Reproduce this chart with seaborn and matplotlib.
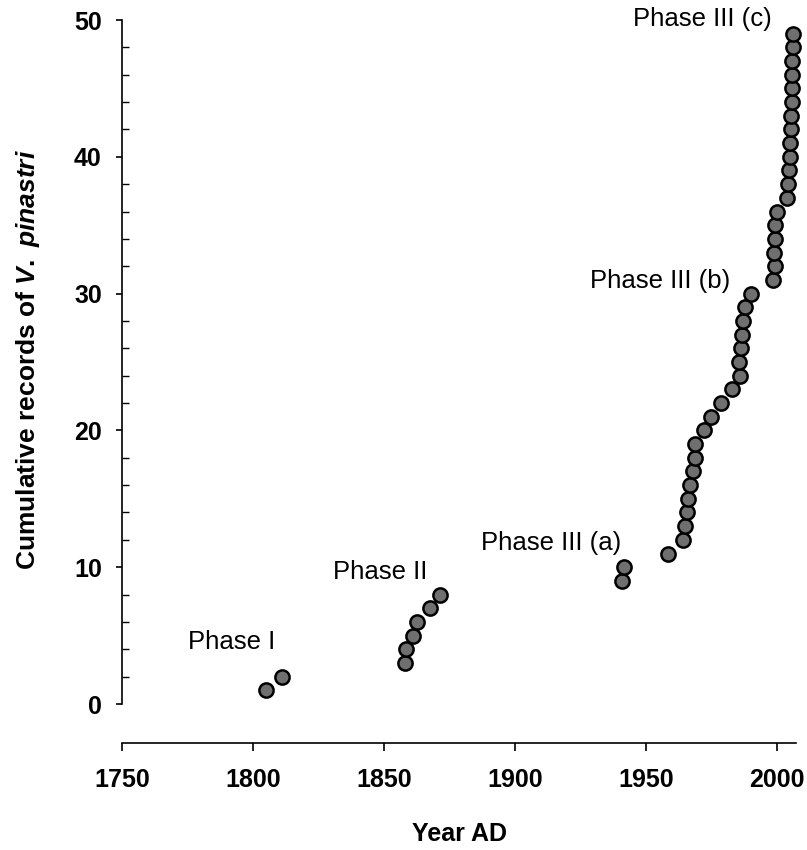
import seaborn as sns
import pandas as pd
import matplotlib.pyplot as plt
import numpy as np
from matplotlib.ticker import FixedLocator

# cumulative records of V. pinastri against year of record
years = [1805, 1811,
         1858, 1858.5, 1861, 1862.5, 1867.5, 1871.5,
         1940.8, 1941.6,
         1958.5, 1964, 1965, 1965.5, 1966, 1967, 1968, 1968.6, 1968.6, 1972,
         1975, 1978.5, 1983, 1986, 1985.6, 1986.2, 1986.5, 1987.1, 1987.8, 1990,
         1998.6, 1999.2, 1998.9, 1999.2, 1999.4, 2000.1,
         2003.9, 2004.1, 2004.6, 2005, 2005.2, 2005.4, 2005.5, 2005.6, 2005.7, 2005.8,
         2005.9, 2006, 2006.2]
records = [1, 2,
           3, 4, 5, 6, 7, 8,
           9, 10,
           11, 12, 13, 14, 15, 16, 17, 18, 19, 20,
           21, 22, 23, 24, 25, 26, 27, 28, 29, 30,
           31, 32, 33, 34, 35, 36,
           37, 38, 39, 40, 41, 42, 43, 44, 45, 46,
           47, 48, 49]

phase_labels = ["Phase I", "Phase II", "Phase III (a)", "Phase III (b)", "Phase III (c)"]
phase_x = [1792, 1848.5, 1913.7, 1955.3, 1971.4]
phase_y = [4.5, 9.65, 11.8, 30.9, 50.1]

x_ticks = [1750, 1800, 1850, 1900, 1950, 2000]
y_ticks = [0, 10, 20, 30, 40, 50]

df = pd.DataFrame({"Year": years, "Records": records})

sns.set_style("ticks")
plt.rcParams['font.family'] = ['Liberation Sans', 'DejaVu Sans']
plt.rcParams['mathtext.fontset'] = 'custom'
plt.rcParams['mathtext.it'] = 'Liberation Sans:italic:bold'
plt.rcParams['mathtext.rm'] = 'Liberation Sans:bold'
for key in ['text.color', 'axes.labelcolor', 'xtick.color', 'ytick.color', 'axes.edgecolor']:
    plt.rcParams[key] = 'black'

fig = plt.figure(figsize=(8.07, 8.5), dpi=100)
ax = fig.add_axes([122 / 807, 1 - 743 / 850, 674 / 807, 723 / 850])

sns.scatterplot(data=df, x="Year", y="Records", ax=ax, s=105, color="#6f6f6f",
                edgecolor="black", linewidth=1.8, clip_on=False, zorder=3)

ax.set_xlim(1750, 2007.3)
ax.set_ylim(-2.85, 50)

ax.set_xticks(x_ticks)
ax.set_yticks(y_ticks)
ax.yaxis.set_minor_locator(FixedLocator(np.arange(2, 50, 2)))
ax.tick_params(axis='x', which='major', direction='out', length=6, width=1.2,
               pad=12, labelsize=18)
ax.tick_params(axis='y', which='major', direction='out', length=4.5, width=1.2,
               pad=10, labelsize=18)
ax.tick_params(axis='y', which='minor', direction='in', length=5, width=1.0)
for lab in ax.get_xticklabels() + ax.get_yticklabels():
    lab.set_fontweight('bold')

for side in ['top', 'right']:
    ax.spines[side].set_visible(False)
ax.spines['left'].set_bounds(0, 50)
ax.spines['left'].set_linewidth(1.2)
ax.spines['bottom'].set_linewidth(1.2)

ax.set_xlabel("Year AD", fontsize=18, fontweight='bold')
ax.xaxis.set_label_coords(0.5, -91 / 723)
ax.xaxis.label.set_verticalalignment('center')

ax.set_ylabel(r"Cumulative records of $\mathit{V.\ pinastri}$", fontsize=19, fontweight='bold')
ax.yaxis.set_label_coords(-94 / 674, (743 - 360) / 723)
ax.yaxis.label.set_verticalalignment('center')

for lab, px, py in zip(phase_labels, phase_x, phase_y):
    ax.text(px, py, lab, fontsize=18.5, ha='center', va='center', clip_on=False)

plt.savefig("out.png", dpi=100)
